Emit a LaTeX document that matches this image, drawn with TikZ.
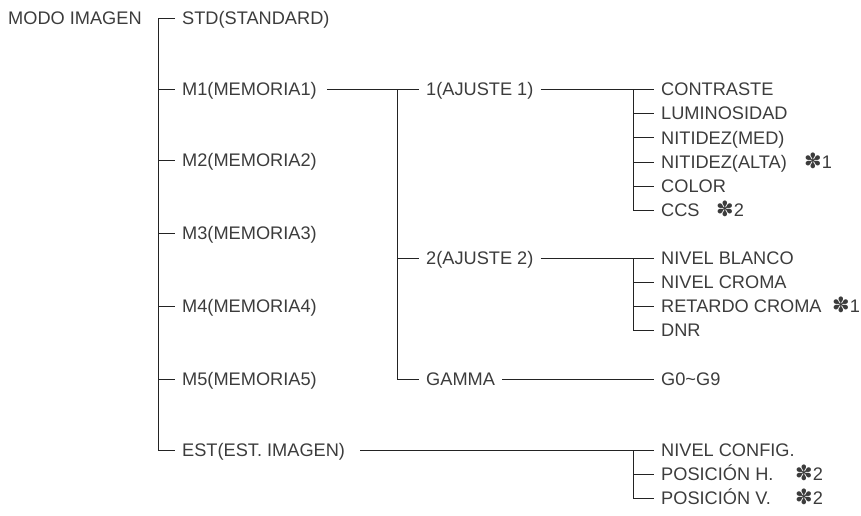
\documentclass[tikz,border=0pt]{standalone}
\usepackage{fontspec}
\setmainfont{Liberation Sans}
\newfontfamily\dejavu{DejaVu Sans}
\newcommand{\myast}{{\dejavu\fontsize{21}{21}\selectfont ✽}}
\definecolor{txtgray}{RGB}{60,60,60}
\definecolor{lngray}{RGB}{35,35,35}
\tikzset{
  lbl/.style={anchor=west, font=\fontsize{18.2}{20}\selectfont, text=txtgray,
    inner xsep=7pt, inner ysep=0pt, text height=13pt, text depth=0pt},
  astnode/.style={anchor=west, font=\fontsize{18.2}{20}\selectfont, text=txtgray,
    inner xsep=0pt, inner ysep=0pt, text height=13pt, text depth=0pt},
  ln/.style={draw=lngray, line width=1pt},
}
\begin{document}
\begin{tikzpicture}[x=1pt,y=-1pt]
\useasboundingbox (0,0) rectangle (861,515);
% level 0
\node[lbl] (modo) at (1,18) {MODO IMAGEN};
% level 1
\coordinate (v1) at (158,18);
\node[lbl] (std) at (175,18) {STD(STANDARD)};
\node[lbl] (m1) at (175,89) {M1(MEMORIA1)};
\node[lbl] (m2) at (175,160) {M2(MEMORIA2)};
\node[lbl] (m3) at (175,233) {M3(MEMORIA3)};
\node[lbl] (m4) at (175,306) {M4(MEMORIA4)};
\node[lbl] (m5) at (175,379) {M5(MEMORIA5)};
\node[lbl] (est) at (175,450) {EST(EST. IMAGEN)};
% level 2
\coordinate (v2) at (397,89);
\node[lbl] (aj1) at (419,89) {1(AJUSTE 1)};
\node[lbl] (aj2) at (419,258) {2(AJUSTE 2)};
\node[lbl] (gam) at (419,379) {GAMMA};
% level 3
\coordinate (v3) at (633,89);
\node[lbl] (con) at (654,89) {CONTRASTE};
\node[lbl] (lum) at (654,113.3) {LUMINOSIDAD};
\node[lbl] (nmed) at (654,137.6) {NITIDEZ(MED)};
\node[lbl] (nalt) at (654,162) {NITIDEZ(ALTA)};
\node[lbl] (col) at (654,186) {COLOR};
\node[lbl] (ccs) at (654,210) {CCS};
\node[lbl] (nbl) at (654,258) {NIVEL BLANCO};
\node[lbl] (ncr) at (654,282) {NIVEL CROMA};
\node[lbl] (ret) at (654,306) {RETARDO CROMA};
\node[lbl] (dnr) at (654,330) {DNR};
\node[lbl] (g09) at (654,379) {G0\char"007E G9};
\node[lbl] (ncf) at (654,450) {NIVEL CONFIG.};
\node[lbl] (ph) at (654,474) {POSICIÓN H.};
\node[lbl] (pv) at (654,498) {POSICIÓN V.};
% notes
\node[astnode] (a1) at (804,162) {\myast 1};
\node[astnode] (a2) at (716,210) {\myast 2};
\node[astnode] (a3) at (832,306) {\myast 1};
\node[astnode] (a4) at (795,474) {\myast 2};
\node[astnode] (a5) at (795,498) {\myast 2};
% connectors level 1
\draw[ln] (std.west) -| (est.west -| v1) -- (est.west);
\foreach \n in {m1,m2,m3,m4,m5} \draw[ln] (\n.west -| v1) -- (\n.west);
% level 2
\draw[ln, shorten <=3pt] (m1.east) -- (aj1.west);
\draw[ln] (v2) |- (gam.west);
\draw[ln] (aj2.west -| v2) -- (aj2.west);
% level 3 group 1
\draw[ln] (aj1.east) -- (con.west);
\draw[ln] (v3) |- (ccs.west);
\foreach \n in {lum,nmed,nalt,col} \draw[ln] (\n.west -| v3) -- (\n.west);
% group 2
\draw[ln] (aj2.east) -- (nbl.west);
\draw[ln] (aj2.east -| v3) |- (dnr.west);
\foreach \n in {ncr,ret} \draw[ln] (\n.west -| v3) -- (\n.west);
% gamma
\draw[ln] (gam.east) -- (g09.west);
% est group
\draw[ln, shorten <=8pt] (est.east) -- (ncf.west);
\draw[ln] (est.east -| v3) |- (pv.west);
\draw[ln] (ph.west -| v3) -- (ph.west);
\end{tikzpicture}
\end{document}
